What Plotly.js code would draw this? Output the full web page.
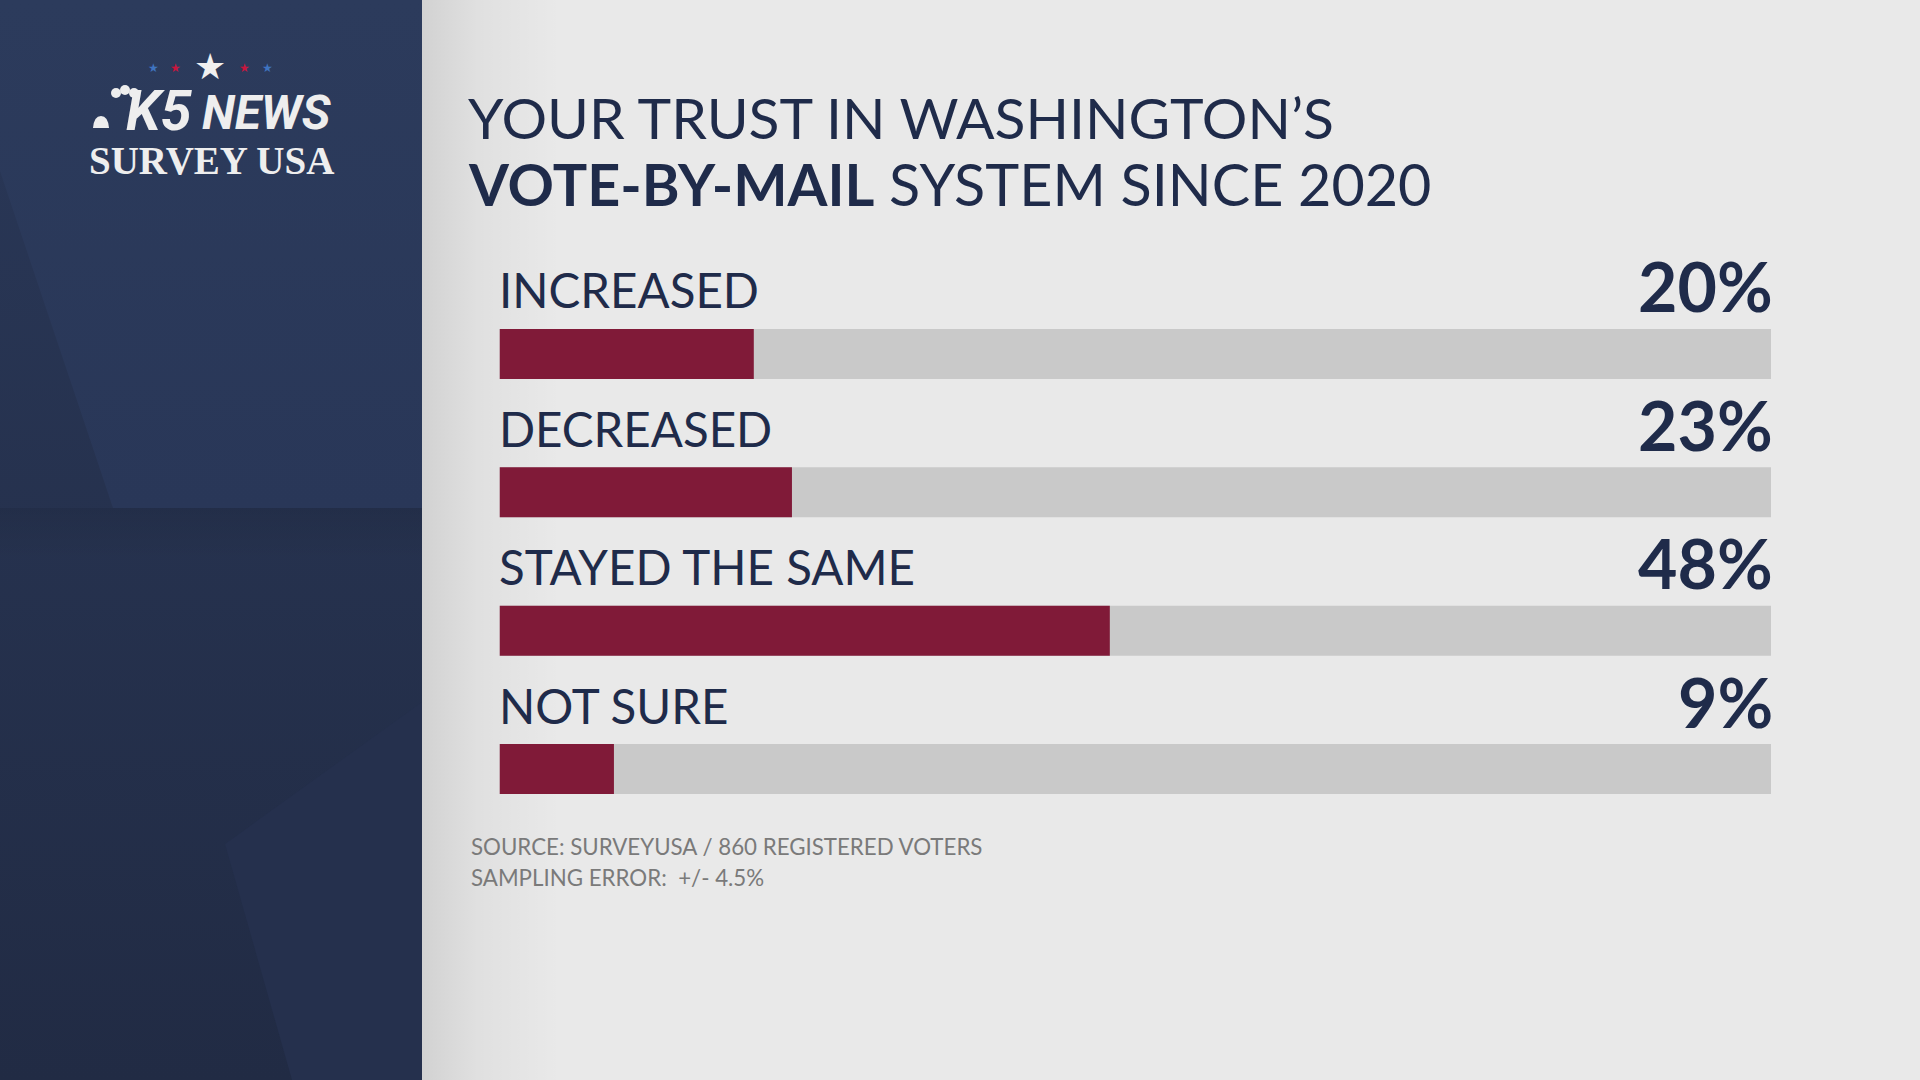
<!DOCTYPE html>
<html>
<head>
<meta charset="utf-8">
<script src="https://cdn.plot.ly/plotly-3.0.1.min.js"></script>
<style>
  html, body { margin: 0; padding: 0; background: #e9e9e9; }
  #chart { width: 1920px; height: 1080px; }
</style>
</head>
<body>
<div id="chart"></div>
<script>
// ---- data ----
const categories = ['INCREASED', 'DECREASED', 'STAYED THE SAME', 'NOT SURE'];
const values = [20, 23, 48, 9];
const fullScale = [100, 100, 100, 100];
const valueLabels = ['20%', '23%', '48%', '9%'];
const titleLine1 = 'YOUR TRUST IN WASHINGTON\u2019S';
const titleLine2Bold = 'VOTE-BY-MAIL';
const titleLine2Rest = ' SYSTEM SINCE 2020';
const sourceLine1 = 'SOURCE: SURVEYUSA / 860 REGISTERED VOTERS';
const sourceLine2 = 'SAMPLING ERROR:  +/- 4.5%';

// ---- style ----
const W = 1920, H = 1080;
const NAVY = '#1f2b4a';
const RED = '#801a38';
const TRACK = '#c9c9c9';
const BG = '#e9e9e9';
const px = x => x / W;
const py = y => 1 - y / H;

// background panel as svg image (decoration)
const panelSvg =
  "<svg xmlns='http://www.w3.org/2000/svg' width='560' height='1080' viewBox='0 0 560 1080'>" +
  "<defs>" +
  "<linearGradient id='sh' x1='0' y1='0' x2='1' y2='0'>" +
  "<stop offset='0' stop-color='#000' stop-opacity='0.10'/>" +
  "<stop offset='0.4' stop-color='#000' stop-opacity='0.04'/>" +
  "<stop offset='1' stop-color='#000' stop-opacity='0'/></linearGradient>" +
  "<linearGradient id='g' x1='0' y1='0' x2='0' y2='1'>" +
  "<stop offset='0' stop-color='#2a3858'/><stop offset='1' stop-color='#212b44'/></linearGradient>" +
  "<linearGradient id='h' x1='0' y1='0' x2='0' y2='1'>" +
  "<stop offset='0' stop-color='#2c3b5c'/><stop offset='1' stop-color='#293758'/></linearGradient>" +
  "<linearGradient id='d' x1='0' y1='0' x2='0' y2='1'>" +
  "<stop offset='0' stop-color='#000' stop-opacity='0.08'/><stop offset='1' stop-color='#000' stop-opacity='0'/></linearGradient>" +
  "</defs>" +
  "<rect x='422' y='0' width='138' height='1080' fill='url(#sh)'/>" +
  "<rect x='0' y='0' width='422' height='1080' fill='url(#g)'/>" +
  "<polygon points='0,508 422,508 422,560 0,560' fill='url(#d)'/>" +
  "<polygon points='0,0 422,0 422,508 113,508 0,171' fill='url(#h)'/>" +
  "<polygon points='225,844 422,702 422,1080 292,1080' fill='#25304d'/>" +
  "</svg>";
const panelSrc = 'data:image/svg+xml;charset=utf-8,' + encodeURIComponent(panelSvg);

// ---- traces ----
const trackTrace = {
  type: 'bar', orientation: 'h',
  x: fullScale, y: categories,
  marker: { color: TRACK, line: { width: 0 } },
  width: 0.3615,
  hoverinfo: 'skip', showlegend: false
};
const valueTrace = {
  type: 'bar', orientation: 'h',
  x: values, y: categories,
  marker: { color: RED, line: { width: 0 } },
  width: 0.3615,
  hoverinfo: 'skip', showlegend: false
};

// ---- annotations ----
const annotations = [];
categories.forEach((c, i) => {
  annotations.push({
    x: 0, y: c, xref: 'x', yref: 'y', xanchor: 'left', yanchor: 'middle',
    xshift: -3, yshift: 64, text: c, showarrow: false,
    font: { family: 'Lato, sans-serif', size: 47.5, color: NAVY }
  });
  annotations.push({
    x: 100, y: c, xref: 'x', yref: 'y', xanchor: 'right', yanchor: 'middle',
    xshift: 4, yshift: 68, text: '<b>' + valueLabels[i] + '</b>', showarrow: false,
    font: { family: 'Lato, sans-serif', size: 68, color: NAVY, weight: 900 }
  });
});
// title
annotations.push({
  x: px(466), y: py(117), xref: 'paper', yref: 'paper', xanchor: 'left', yanchor: 'middle',
  text: titleLine1, showarrow: false,
  font: { family: 'Lato, sans-serif', size: 57, color: NAVY }
});
annotations.push({
  x: px(466), y: py(183), xref: 'paper', yref: 'paper', xanchor: 'left', yanchor: 'middle',
  text: '<b>' + titleLine2Bold + '</b>' + titleLine2Rest, showarrow: false,
  font: { family: 'Lato, sans-serif', size: 57.5, color: NAVY }
});
// source
annotations.push({
  x: px(469), y: py(846), xref: 'paper', yref: 'paper', xanchor: 'left', yanchor: 'middle',
  text: sourceLine1, showarrow: false,
  font: { family: 'Lato, sans-serif', size: 22.3, color: '#7a7a7a' }
});
annotations.push({
  x: px(469), y: py(877), xref: 'paper', yref: 'paper', xanchor: 'left', yanchor: 'middle',
  text: sourceLine2, showarrow: false,
  font: { family: 'Lato, sans-serif', size: 22.3, color: '#7a7a7a' }
});
// logo
const starDefs = [[153, '#3f74c0', 12], [175, '#c8163e', 12], [210, '#f0f0f0', 36], [244, '#c8163e', 12], [267, '#3f74c0', 12]];
starDefs.forEach(s => {
  annotations.push({
    x: px(s[0]), y: py(s[2] > 20 ? 66 : 68), xref: 'paper', yref: 'paper',
    xanchor: 'center', yanchor: 'middle', text: '\u2605', showarrow: false,
    font: { family: 'DejaVu Sans', size: s[2], color: s[1] }
  });
});
annotations.push({
  x: px(195), y: py(111), xref: 'paper', yref: 'paper', xanchor: 'right', yanchor: 'middle',
  text: '<b><i>K5</i></b>', showarrow: false,
  font: { family: 'Roboto, sans-serif', size: 56, color: '#eeeeee', weight: 900 }
});
annotations.push({
  x: px(333), y: py(112), xref: 'paper', yref: 'paper', xanchor: 'right', yanchor: 'middle',
  text: '<b><i>NEWS</i></b>', showarrow: false,
  font: { family: 'Roboto, sans-serif', size: 48, color: '#eeeeee', weight: 900 }
});
annotations.push({
  x: px(211), y: py(160), xref: 'paper', yref: 'paper', xanchor: 'center', yanchor: 'middle',
  text: '<b>SURVEY USA</b>', showarrow: false,
  font: { family: '"Liberation Serif", serif', size: 39, color: '#eeeeee' }
});

// logo small shapes (peacock dots + fan)
const shapes = [];
[[116, 93], [125, 90], [134, 93]].forEach(c => {
  shapes.push({ type: 'circle', xref: 'paper', yref: 'paper',
    x0: px(c[0] - 5), x1: px(c[0] + 5), y0: py(c[1] + 5), y1: py(c[1] - 5),
    fillcolor: '#eeeeee', line: { width: 0 } });
});
shapes.push({ type: 'path', xref: 'paper', yref: 'paper',
  path: `M ${px(93)},${py(128)} Q ${px(94)},${py(116)} ${px(101)},${py(116)} Q ${px(108)},${py(116)} ${px(109)},${py(128)} Z`,
  fillcolor: '#eeeeee', line: { width: 0 } });

const layout = {
  width: W, height: H,
  margin: { l: 0, r: 0, t: 0, b: 0, pad: 0 },
  paper_bgcolor: BG, plot_bgcolor: 'rgba(0,0,0,0)',
  barmode: 'overlay',
  showlegend: false,
  xaxis: {
    domain: [px(499.5), px(1771)], range: [0, 100],
    showgrid: false, zeroline: false, showline: false, showticklabels: false, ticks: '', fixedrange: true
  },
  yaxis: {
    type: 'category', categoryorder: 'array', categoryarray: categories,
    domain: [py(838.2), py(284.8)], range: [3.5, -0.5],
    showgrid: false, zeroline: false, showline: false, showticklabels: false, ticks: '', fixedrange: true
  },
  images: [{
    source: panelSrc, xref: 'paper', yref: 'paper', x: 0, y: 1,
    sizex: 560 / W, sizey: 1, sizing: 'stretch', xanchor: 'left', yanchor: 'top', layer: 'below'
  }],
  annotations: annotations,
  shapes: shapes
};

Plotly.newPlot('chart', [trackTrace, valueTrace], layout, { staticPlot: true, displayModeBar: false });
</script>
</body>
</html>
